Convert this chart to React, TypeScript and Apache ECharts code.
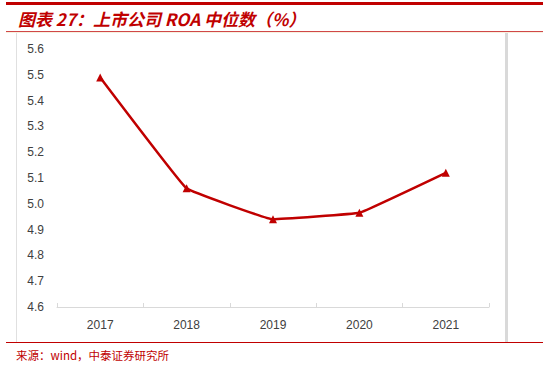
import React, { useEffect, useRef } from "react";
import * as echarts from "echarts";

const categories = ["2017", "2018", "2019", "2020", "2021"];
const roaMedian = [5.49, 5.06, 4.94, 4.965, 5.12];
const yMin = 4.6;
const yMax = 5.6;
const yInterval = 0.1;
const titleText = "图表 27：上市公司 ROA 中位数（%）";
const sourceText = "来源：wind，中泰证券研究所";

export default function App() {
  const ref = useRef<HTMLDivElement>(null);
  useEffect(() => {
    document.body.style.margin = "0";
    const chart = echarts.init(ref.current!, null, { renderer: "svg" });
    chart.setOption({
      animation: false,
      backgroundColor: "#ffffff",
      grid: { left: 57, right: 61, top: 49, bottom: 61 },
      xAxis: {
        type: "category",
        data: categories,
        boundaryGap: true,
        axisLine: { lineStyle: { color: "#d9d9d9", width: 1 } },
        axisTick: { show: true, inside: true, length: 4, lineStyle: { color: "#d9d9d9" } },
        axisLabel: { color: "#404040", fontSize: 12, margin: 12, fontFamily: "Liberation Sans, Arial, sans-serif" },
      },
      yAxis: {
        type: "value",
        min: yMin,
        max: yMax,
        interval: yInterval,
        axisLine: { show: false },
        axisTick: { show: false },
        splitLine: { show: false },
        axisLabel: {
          color: "#404040",
          fontSize: 12,
          margin: 13,
          fontFamily: "Liberation Sans, Arial, sans-serif",
          formatter: (v: number) => v.toFixed(1),
        },
      },
      series: [
        {
          type: "line",
          data: roaMedian,
          smooth: 0.06,
          symbol: "triangle",
          symbolSize: 8,
          lineStyle: { color: "#c00000", width: 2.5 },
          itemStyle: { color: "#c00000" },
        },
      ],
      graphic: [
        { type: "rect", shape: { x: 6, y: 2, width: 537, height: 3 }, style: { fill: "#c00000" } },
        { type: "line", shape: { x1: 6, y1: 31.5, x2: 543, y2: 31.5 }, style: { stroke: "#d04848", lineWidth: 1 } },
        { type: "line", shape: { x1: 6, y1: 32.5, x2: 543, y2: 32.5 }, style: { stroke: "#f8f0e0", lineWidth: 1 } },
        { type: "line", shape: { x1: 16.5, y1: 33, x2: 16.5, y2: 342 }, style: { stroke: "#e0e0e0", lineWidth: 1 } },
        { type: "rect", shape: { x: 505, y: 33, width: 3, height: 309 }, style: { fill: "#d9d9d9" } },
        { type: "line", shape: { x1: 6, y1: 342.5, x2: 543, y2: 342.5 }, style: { stroke: "#c00000", lineWidth: 1 } },
        {
          type: "text",
          x: 18,
          y: 18,
          style: {
            text: titleText,
            fill: "#c00000",
            font: "italic bold 17px 'Noto Sans CJK SC', sans-serif",
            verticalAlign: "middle",
          },
        },
        {
          type: "text",
          x: 16,
          y: 355,
          style: {
            text: sourceText,
            fill: "#c00000",
            font: "11.5px 'Noto Sans CJK SC', monospace",
            verticalAlign: "middle",
          },
        },
      ],
    });
    return () => chart.dispose();
  }, []);
  return <div ref={ref} style={{ width: 550, height: 368, position: "absolute", left: 0, top: 0 }} />;
}
